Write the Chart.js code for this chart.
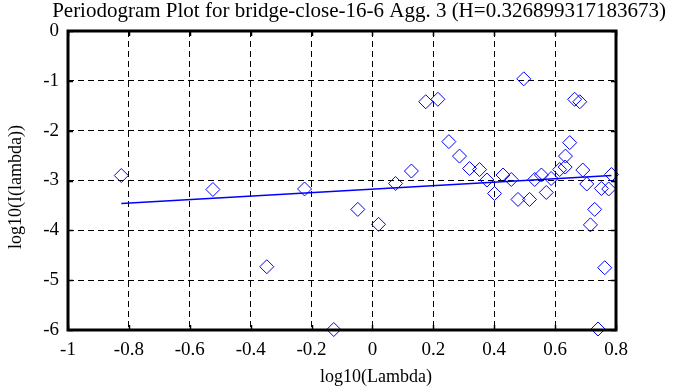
<!DOCTYPE html>
<html>
<head>
<meta charset="utf-8">
<script src="https://cdn.jsdelivr.net/npm/chart.js@4/dist/chart.umd.min.js"></script>
<style>
  html, body { margin: 0; padding: 0; background: #fff; }
  #wrap { width: 685px; height: 387px; }
</style>
</head>
<body>
<div id="wrap"><canvas id="chart" width="685" height="387"></canvas></div>
<script>
// periodogram points, log10(lambda) vs log10(I(lambda))
const logLambda = [-0.825, -0.524, -0.347, -0.223, -0.127, -0.048, 0.020, 0.076, 0.128, 0.175,
    0.215, 0.251, 0.286, 0.319, 0.352, 0.376, 0.401, 0.429, 0.456, 0.478,
    0.497, 0.516, 0.533, 0.555, 0.571, 0.587, 0.615, 0.633, 0.634, 0.648,
    0.664, 0.681, 0.691, 0.704, 0.716, 0.730, 0.741, 0.752, 0.763, 0.776, 0.785];
const logPower = [-2.90, -3.18, -4.73, -3.17, -5.99, -3.58, -3.88, -3.06, -2.81, -1.42,
    -1.37, -2.22, -2.51, -2.76, -2.78, -2.99, -3.26, -2.89, -2.98, -3.38,
    -0.96, -3.38, -2.98, -2.89, -3.24, -2.96, -2.78, -2.73, -2.51, -2.24,
    -1.37, -1.42, -2.79, -3.07, -3.89, -3.58, -5.98, -3.16, -4.75, -3.17, -2.88];

// fitted line end points
const fitX = [-0.825, 0.785];
const fitY = [-3.46, -2.90];

const xTicks = [-1, -0.8, -0.6, -0.4, -0.2, 0, 0.2, 0.4, 0.6, 0.8];
const yTicks = [0, -1, -2, -3, -4, -5, -6];

const titleText = "Periodogram Plot for bridge-close-16-6 Agg. 3 (H=0.326899317183673)";
const xTitle = "log10(Lambda)";
const yTitle = "log10(I(lambda))";

const serif = "'Liberation Serif', 'DejaVu Serif', serif";

const points = logLambda.map((x, i) => ({x: x, y: logPower[i]}));
const fit = fitX.map((x, i) => ({x: x, y: fitY[i]}));

// frame round the plot, little inward ticks, and the titles
const framePlugin = {
    id: "frame",
    afterDraw(chart) {
        const ctx = chart.ctx;
        const a = chart.chartArea;
        const xs = chart.scales.x;
        const ys = chart.scales.y;
        ctx.save();
        ctx.strokeStyle = "#000";
        ctx.lineWidth = 1.5;
        xTicks.forEach(v => {
            const px = Math.round(xs.getPixelForValue(v)) + 0.5;
            ctx.beginPath();
            ctx.moveTo(px, a.top); ctx.lineTo(px, a.top + 5);
            ctx.moveTo(px, a.bottom); ctx.lineTo(px, a.bottom - 5);
            ctx.stroke();
        });
        yTicks.forEach(v => {
            const py = Math.round(ys.getPixelForValue(v)) + 0.5;
            ctx.beginPath();
            ctx.moveTo(a.left, py); ctx.lineTo(a.left + 5, py);
            ctx.moveTo(a.right, py); ctx.lineTo(a.right - 5, py);
            ctx.stroke();
        });
        ctx.lineWidth = 3;
        ctx.strokeRect(a.left, a.top, a.right - a.left, a.bottom - a.top);

        ctx.fillStyle = "#000";
        ctx.textAlign = "center";
        ctx.textBaseline = "middle";
        ctx.font = "21px " + serif;
        ctx.fillText(titleText, 359, 11);
        ctx.font = "18px " + serif;
        ctx.fillText(xTitle, 376, 377);
        ctx.translate(16, 187);
        ctx.rotate(-Math.PI / 2);
        ctx.fillText(yTitle, 0, 0);
        ctx.restore();
    }
};

new Chart(document.getElementById("chart"), {
    type: "scatter",
    data: {
        datasets: [{
            data: points,
            pointStyle: "rectRot",
            pointRadius: 7,
            pointHoverRadius: 7,
            borderColor: "#0000ff",
            backgroundColor: "rgba(0,0,0,0)",
            borderWidth: 1,
            clip: false
        },
        {
            type: "line",
            data: fit,
            borderColor: "#0000ff",
            borderWidth: 1.5,
            pointRadius: 0,
            fill: false
        }]
    },
    options: {
        responsive: false,
        animation: false,
        events: [],
        layout: {padding: {left: 0, right: 69, top: 31, bottom: 0}},
        plugins: {
            legend: {display: false},
            tooltip: {enabled: false},
            title: {display: false}
        },
        scales: {
            x: {
                type: "linear",
                min: -1,
                max: 0.8,
                afterBuildTicks: s => { s.ticks = xTicks.map(v => ({value: v})); },
                afterFit: s => { s.height = 57; },
                ticks: {
                    color: "#000",
                    font: {family: serif, size: 19},
                    padding: 9,
                    maxRotation: 0,
                    callback: v => String(v)
                },
                grid: {color: "#000", lineWidth: 1, drawTicks: false},
                border: {display: false, dash: [6, 4]}
            },
            y: {
                type: "linear",
                min: -6,
                max: 0,
                afterBuildTicks: s => { s.ticks = yTicks.map(v => ({value: v})); },
                afterFit: s => { s.width = 68; },
                ticks: {
                    color: "#000",
                    font: {family: serif, size: 19},
                    padding: 9,
                    callback: v => String(v)
                },
                grid: {color: "#000", lineWidth: 1, drawTicks: false},
                border: {display: false, dash: [6, 4]}
            }
        }
    },
    plugins: [framePlugin]
});
</script>
</body>
</html>
